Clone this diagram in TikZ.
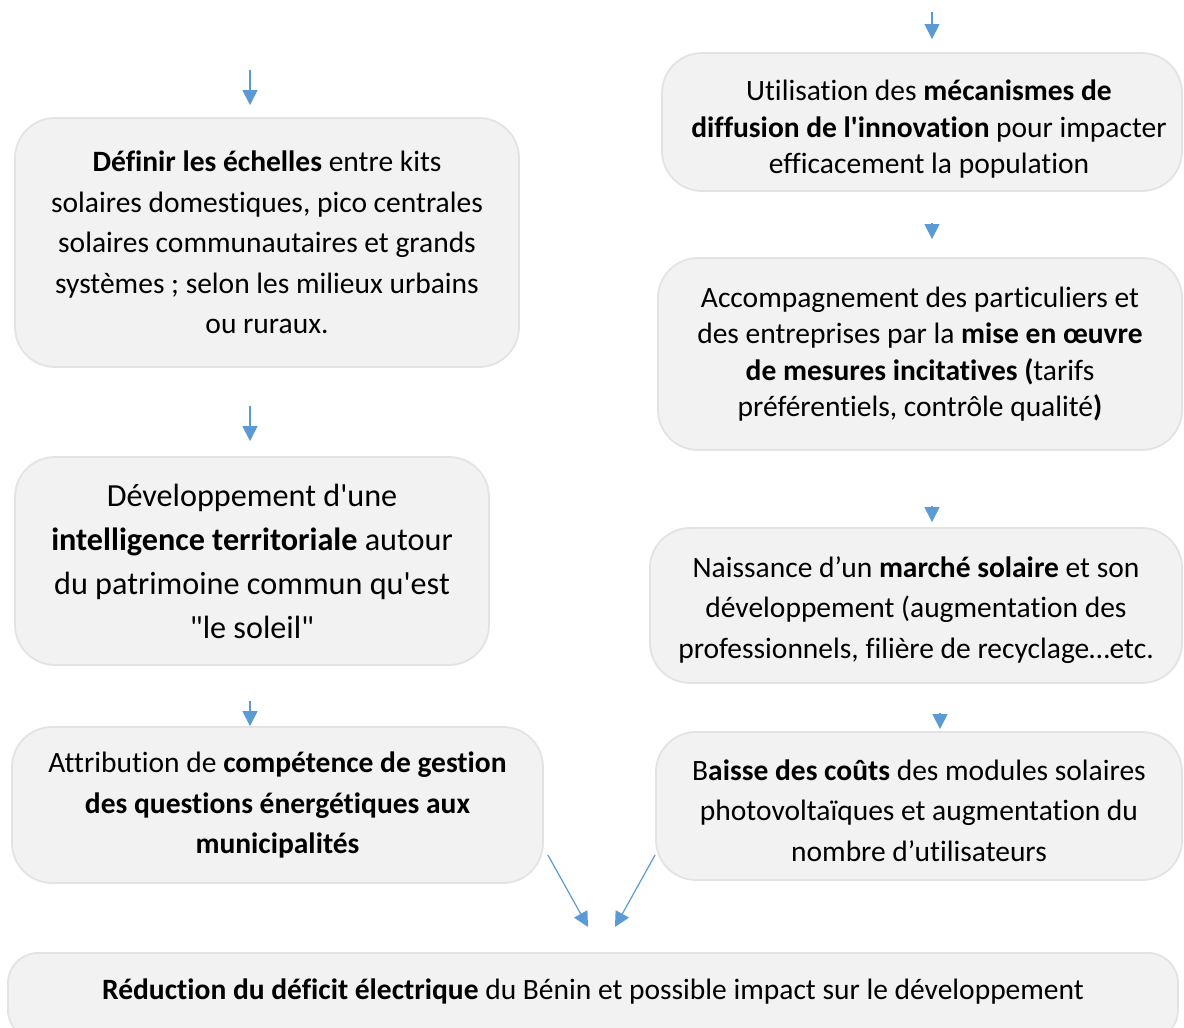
\documentclass[tikz,border=0pt]{standalone}
\usepackage{fontspec}
\setmainfont{Carlito}[Ligatures=NoCommon]
\usetikzlibrary{arrows.meta}
\definecolor{fcfill}{HTML}{F2F2F2}
\definecolor{fcline}{HTML}{E3E3E3}
\definecolor{fcblue}{HTML}{5B9BD5}
\tikzset{
  fcbox/.style={draw=fcline, fill=fcfill, line width=1.8pt, rounded corners=40pt, align=center, inner sep=0pt},
  fcflow/.style={draw=fcblue, line width=1.2pt, -{Triangle[length=15pt,width=15pt]}},
}
\newcommand{\fcnode}[6] {\node at (#1) (#2) [fcbox, minimum width=#3pt, minimum height=#4pt, font=#5] {#6};}
\newcommand{\fcarrow}[4] {\draw [fcflow, shorten <=#3pt, shorten >=#4pt] (#1) -- (#2);}
\newcommand{\fcnormal}{\fontsize{29.5}{40.5}\selectfont}
\newcommand{\fclarge}{\fontsize{32.2}{44}\selectfont}
\newcommand{\fctight}{\fontsize{29.5}{36.3}\selectfont}
\newcommand{\fcpush}[1]{\rule{0pt}{#1pt}}

\begin{document}
\begin{tikzpicture}[x=1pt, y=-1pt]
\clip (0,0) rectangle (1184,1028);
\coordinate (colL) at (250,0);
\coordinate (colR) at (932,0);
\coordinate (colRR) at (940,0);
\coordinate (topL) at (250,70);
\coordinate (topR) at (932,12);

% left column
\fcnode {267,242.5} {l1} {504} {249} {\fcnormal} {\textbf{Définir les échelles} entre kits\\solaires domestiques, pico centrales\\solaires communautaires et grands\\systèmes ; selon les milieux urbains\\ou ruraux.};
\fcnode {252,561} {l2} {474} {208} {\fclarge} {Développement d\textquotesingle une\\\textbf{intelligence territoriale} autour\\du patrimoine commun qu\textquotesingle est\\\textquotedbl le soleil\textquotedbl};
\fcnode {277.5,805} {l3} {531} {156} {\fcnormal} {Attribution de \textbf{compétence de gestion}\\\textbf{des questions énergétiques aux}\\\textbf{municipalités}};

% right column
\fcnode {922,122} {r1} {520} {138} {\fctight} {\fcpush{35}\hspace{14pt}Utilisation des \textbf{mécanismes de}\\\hspace{14pt}\textbf{diffusion de l\textquotesingle innovation} pour impacter\\\hspace{14pt}efficacement la population};
\fcnode {920,354} {r2} {524} {192} {\fctight} {Accompagnement des particuliers et\\des entreprises par la \textbf{mise en œuvre}\\\textbf{de mesures incitatives (}tarifs\\préférentiels, contrôle qualité\textbf{)}};
\fcnode {916,605.5} {r3} {532} {155} {\fcnormal} {\fcpush{30}Naissance d’un \textbf{marché solaire} et son\\développement (augmentation des\\professionnels, filière de recyclage…etc.};
\fcnode {919,806} {r4} {526} {148} {\fcnormal} {\fcpush{30}B\textbf{aisse des coûts} des modules solaires\\photovoltaïques et augmentation du\\nombre d’utilisateurs};

% result
\node at (593,996.5) (res) [fcbox, rounded corners=30pt, minimum width=1170pt, minimum height=87pt, font=\fcnormal, text height=24pt, text depth=19pt] {\textbf{Réduction du déficit électrique} du Bénin et possible impact sur le développement};
\coordinate (res1) at (588,927);
\coordinate (res2) at (615,927);

\fcarrow{topL}{l1.north -| colL}{0}{12};
\fcarrow{l1.south -| colL}{l2.north -| colL}{38}{15};
\fcarrow{l2.south -| colL}{l3.north -| colL}{35}{0};

\fcarrow{topR}{r1.north -| colR}{0}{13};
\fcarrow{r1.south -| colR}{r2.north -| colR}{31}{18};
\fcarrow{r2.south -| colR}{r3.north -| colR}{55}{5};
\fcarrow{r3.south -| colRR}{r4.north -| colRR}{29}{2};

\fcarrow{[shift={(4,50)}]l3.east}{res1}{0}{0};
\fcarrow{[shift={(0,49)}]r4.west}{res2}{0}{0};
\end{tikzpicture}
\end{document}
